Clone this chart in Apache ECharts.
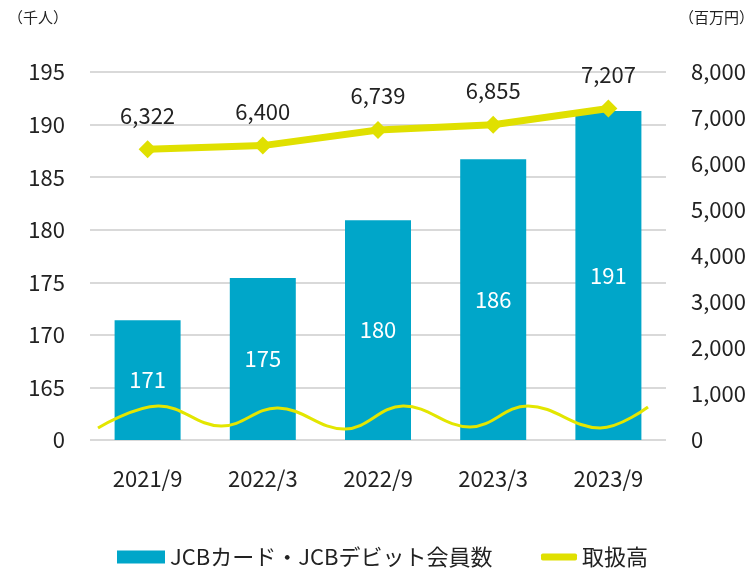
<!DOCTYPE html>
<html>
<head>
<meta charset="utf-8">
<script src="https://cdn.jsdelivr.net/npm/echarts@6/dist/echarts.min.js"></script>
<style>
  html, body { margin: 0; padding: 0; background: #fff; }
  #chart { width: 754px; height: 574px; }
</style>
</head>
<body>
<div id="chart"></div>
<script>
const categories = ['2021/9', '2022/3', '2022/9', '2023/3', '2023/9']
// 会員数 (千人); labels show the truncated value
const members = [171.4, 175.4, 180.9, 186.7, 191.3]
// 取扱高 (百万円)
const volume = [6322, 6400, 6739, 6855, 7207]

const barName = 'JCBカード・JCBデビット会員数'
const lineName = '取扱高'
const font = '"Noto Sans CJK JP", "Noto Sans", sans-serif'

// axis break: the bottom tick of the left axis stands for 0
const leftMin = 160

const chart = echarts.init(document.getElementById('chart'))

chart.setOption({
  animation: false,
  textStyle: { fontFamily: font },
  grid: { left: 90, right: 88, top: 72, bottom: 134 },
  legend: [
    {
      data: [{ name: barName, icon: 'rect' }],
      left: 112,
      top: 541,
      itemWidth: 48,
      itemHeight: 13,
      textStyle: { fontSize: 22, color: '#222', fontFamily: font },
    },
    {
      data: [{ name: lineName, icon: 'roundRect' }],
      left: 536,
      top: 541,
      itemWidth: 36,
      itemHeight: 7,
      textStyle: { fontSize: 22, color: '#222', fontFamily: font },
    },
  ],
  xAxis: {
    type: 'category',
    data: categories,
    axisLine: { show: false },
    axisTick: { show: false },
    axisLabel: { fontSize: 22, color: '#222', margin: 28 },
  },
  yAxis: [
    {
      type: 'value',
      min: leftMin,
      max: 195,
      interval: 5,
      axisLine: { show: false },
      axisTick: { show: false },
      axisLabel: {
        fontSize: 22,
        color: '#222',
        margin: 25,
        formatter: (v) => (v === leftMin ? '0' : String(v)),
      },
      splitLine: { lineStyle: { color: '#d9d9d9', width: 2 } },
    },
    {
      type: 'value',
      min: 0,
      max: 8000,
      interval: 1000,
      axisLine: { show: false },
      axisTick: { show: false },
      axisLabel: {
        fontSize: 22,
        color: '#222',
        margin: 25,
        formatter: (v) => v.toLocaleString('en-US'),
      },
      splitLine: { show: false },
    },
  ],
  series: [
    {
      name: barName,
      type: 'bar',
      yAxisIndex: 0,
      barWidth: 66,
      itemStyle: { color: '#00a6c9' },
      label: {
        show: true,
        position: 'inside',
        color: '#fff',
        fontSize: 22,
        formatter: (p) => String(Math.floor(p.value)),
      },
      data: members,
    },
    {
      name: lineName,
      type: 'line',
      yAxisIndex: 1,
      symbol: 'diamond',
      symbolSize: 18,
      z: 5,
      lineStyle: { color: '#e0e000', width: 7 },
      itemStyle: { color: '#e0e000' },
      label: {
        show: true,
        position: 'top',
        distance: 14,
        color: '#222',
        fontSize: 22,
        formatter: (p) => p.value.toLocaleString('en-US'),
      },
      data: volume,
    },
  ],
  graphic: [
    {
      type: 'text',
      left: 8,
      top: 10,
      style: { text: '（千人）', fontSize: 15, fontFamily: font, fill: '#222' },
    },
    {
      type: 'text',
      right: 0,
      top: 10,
      style: { text: '（百万円）', fontSize: 15, fontFamily: font, fill: '#222' },
    },
    {
      // wavy break mark across the bars
      type: 'polyline',
      z: 100,
      silent: true,
      shape: {
        smooth: 0.4,
        points: [
          [98, 428], [158, 406], [221, 426], [278, 408], [345, 429],
          [403, 406], [470, 427], [528, 406], [600, 428], [648, 407],
        ],
      },
      style: { stroke: '#e3e600', lineWidth: 3, fill: null },
    },
  ],
})
</script>
</body>
</html>
